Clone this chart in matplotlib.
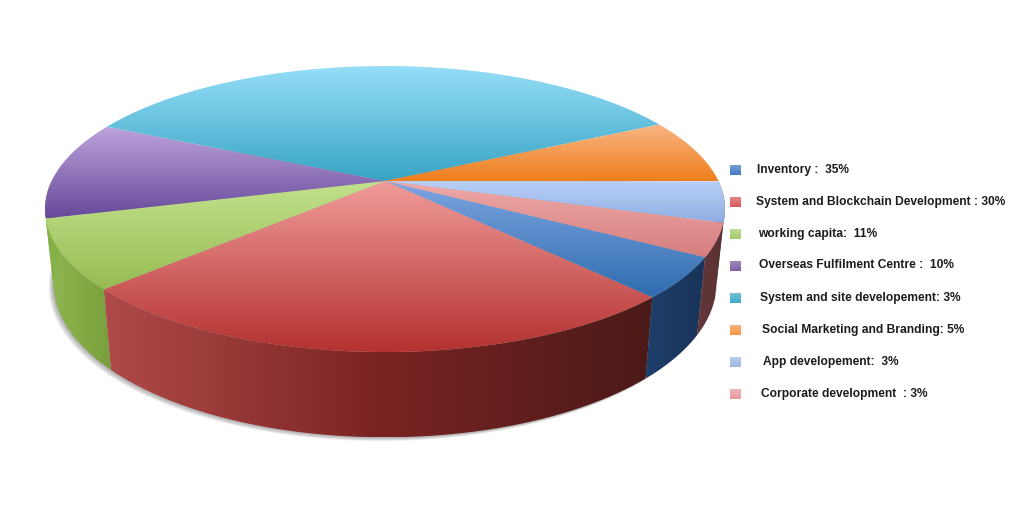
import numpy as np
import matplotlib
matplotlib.use('Agg')
import matplotlib.pyplot as plt
from matplotlib.colors import to_rgb
from matplotlib.patches import Polygon

# legend texts, in slice order
labels = [
    'Inventory :  35%',
    'System and Blockchain Development : 30%',
    'working capita:  11%',
    'Overseas Fulfilment Centre :  10%',
    'System and site developement: 3%',
    'Social Marketing and Branding: 5%',
    'App developement:  3%',
    'Corporate development  : 3%',
]
# share of the circle each slice really takes in the picture
shares = [4.6, 25.1, 7.8, 11.2, 35.6, 7.4, 4.6, 3.7]

# top face gradient: light end, dark end
top_light = ['#7ea6e2', '#f09c9a', '#c2e28c', '#bca4dc', '#96def8', '#fab684', '#b9d0f8', '#f0aaaa']
top_dark = ['#2f6cae', '#b43230', '#98bc54', '#68489a', '#38a4c4', '#ee7e1c', '#8fade2', '#d67e7e']
# side wall gradient: left, middle, right
side_left = ['#1e3f6c', '#b04a4a', '#8fb852', '#86b048', '#2a7f96', '#a85a18', '#5f7398', '#64383a']
side_mid = ['#1b3960', '#7a2422', '#84ab46', '#86b048', '#2a7f96', '#a85a18', '#5f5a6a', '#5f3436']
side_right = ['#19335a', '#4a1a18', '#779f3c', '#86b048', '#2a7f96', '#a85a18', '#5f3a3c', '#5a3032']
# legend squares
legend_colors = ['#4479c4', '#d9575a', '#a6cc6a', '#7d5fa4', '#3fa9c8', '#f79646', '#a0b8e6', '#e89a9c']
legend_text_x = [757, 756, 758, 759, 760, 762, 763, 761]
legend_y = [170, 202, 234, 266, 298, 330, 362, 394]

start_angle = 30.0
cx, cy = 385, 181
rx, ry = 333.4, 137.5
persp = 0.196
depth = 72
shrink = 0.975


def project(deg, bottom=False):
    t = np.radians(deg)
    x, y = np.cos(t), np.sin(t)
    w = 1 - persp * y
    if bottom:
        return cx + shrink * rx * x / w, cy + (shrink * ry * y + depth) / w
    return cx + rx * x / w, cy + ry * y / w


def gradient_fill(ax, pts, colors, vertical=True, zorder=2):
    pts = np.asarray(pts)
    x0, x1 = pts[:, 0].min(), pts[:, 0].max()
    y0, y1 = pts[:, 1].min(), pts[:, 1].max()
    stops = np.array([to_rgb(c) for c in colors])
    s = np.linspace(0, 1, 128)
    pos = np.linspace(0, 1, len(colors))
    img = np.stack([np.interp(s, pos, stops[:, k]) for k in range(3)], axis=1)
    img = img[:, None, :] if vertical else img[None, :, :]
    im = ax.imshow(img, extent=(x0, x1, y1, y0), origin='upper', aspect='auto',
                   interpolation='bilinear', zorder=zorder)
    patch = Polygon(pts, closed=True, transform=ax.transData, fc='none', ec='none')
    ax.add_patch(patch)
    im.set_clip_path(patch)


fig = plt.figure(figsize=(10.24, 5.12), dpi=100)
ax = fig.add_axes([0, 0, 1, 1])

edges = start_angle + np.cumsum([0] + shares) * 3.6

# soft shadow under the disc, widest and faintest first
arc = np.linspace(0, 360, 300)
bx, by = project(arc, bottom=True)
for i in range(10, 0, -1):
    off = i * 0.55
    ax.add_patch(Polygon(np.c_[bx - off * 0.9, by + off * 0.7], closed=True, fc='#555555',
                         ec='none', alpha=0.055, zorder=1))

# side walls, only the front half shows
for i in range(len(shares)):
    for shift in (0, 360):
        a = max(edges[i] - shift, 0)
        b = min(edges[i + 1] - shift, 180)
        if b <= a:
            continue
        ang = np.linspace(a, b, 60)
        tx, ty = project(ang)
        ux, uy = project(ang, bottom=True)
        pts = np.r_[np.c_[tx, ty], np.c_[ux, uy][::-1]]
        gradient_fill(ax, pts, [side_left[i], side_mid[i], side_right[i]], vertical=False, zorder=2)

# top face
for i in range(len(shares)):
    ang = np.linspace(edges[i], edges[i + 1], 80)
    tx, ty = project(ang)
    pts = np.r_[[[cx, cy]], np.c_[tx, ty]]
    gradient_fill(ax, pts, [top_light[i], top_dark[i]], zorder=3)

# legend
for i, label in enumerate(labels):
    y = legend_y[i]
    square = [(730, y - 5.5), (741, y - 5.5), (741, y + 5.5), (730, y + 5.5)]
    light = tuple(0.7 * np.array(to_rgb(legend_colors[i])) + 0.3)
    gradient_fill(ax, square, [light, legend_colors[i]], zorder=3)
    ax.text(legend_text_x[i], y - 0.5, label, fontsize=8.68, fontweight='bold', color='#1c1c1c',
            family='Liberation Sans', ha='left', va='center', zorder=4)

ax.set_xlim(0, 1024)
ax.set_ylim(512, 0)
ax.axis('off')
fig.savefig('out.png', dpi=100, facecolor='white')
